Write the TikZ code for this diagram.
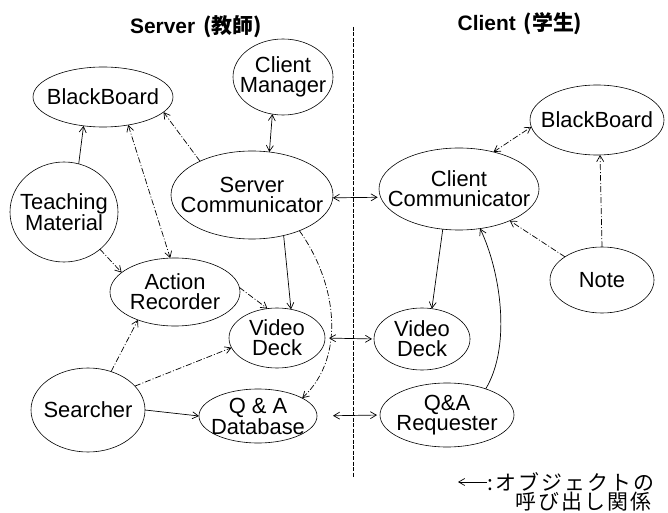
\documentclass[tikz,border=0pt]{standalone}
\usepackage{fontspec}
\setmainfont{Liberation Sans}
\newfontfamily\cjk{Noto Sans CJK JP}
\newfontfamily\cjkwide{Noto Sans CJK JP}[LetterSpace=10]
\usetikzlibrary{arrows.meta,shapes.geometric}
\begin{document}
\begin{tikzpicture}[x=1bp,y=-1bp,
  obj/.style={draw, ellipse, line width=0.6bp, inner sep=0pt, outer sep=0pt},
  txt/.style={align=center, font=\fontsize{22}{20}\selectfont, inner sep=0pt},
  ttl/.style={font=\fontsize{21}{22}\selectfont\bfseries, inner sep=0pt},
  tip/.style={line width=0.7bp, -{Straight Barb[length=6bp,width=7bp]}},
  tips/.style={line width=0.7bp, {Straight Barb[length=6bp,width=7bp]}-{Straight Barb[length=6bp,width=7bp]}},
  dd/.style={dash pattern=on 6bp off 2bp on 1bp off 2bp},
  divider/.style={line width=0.6bp, dash pattern=on 4bp off 1.5bp}]
\useasboundingbox (0,0) rectangle (668,513);

% titles
\node[ttl] (tS) at (196,27) {Server\hspace{8bp}{\cjk (教師)}};
\node[ttl] (tC) at (520,24) {Client\hspace{8bp}{\cjk (学生)}};

% divider
\coordinate (dTop) at (353,27);
\coordinate (dBot) at (353,477);
\draw[divider] (dTop) -- (dBot);

% server side objects
\node[obj, minimum width=140bp, minimum height=60bp, label={[txt]center:BlackBoard}] (bbS) at (103,97) {};
\node[obj, minimum width=100bp, minimum height=76bp, label={[txt]center:Client\\Manager}] (cm) at (283,77) {};
\node[obj, minimum width=108bp, minimum height=100bp, label={[txt]center:Teaching\\Material}] (tm) at (64,212) {};
\node[obj, minimum width=162bp, minimum height=88bp, label={[txt]center:Server\\Communicator}] (sc) at (252,195) {};
\node[obj, minimum width=130bp, minimum height=68bp, label={[txt]center:Action\\Recorder}] (ar) at (175,292) {};
\node[obj, minimum width=96bp, minimum height=60bp, label={[txt]center:Video\\Deck}] (vdS) at (277,338) {};
\node[obj, minimum width=114bp, minimum height=84bp, label={[txt]center:Searcher}] (se) at (88,410) {};
\node[obj, minimum width=118bp, minimum height=54bp, label={[txt]center:Q \& A\\Database}] (qa) at (258,416) {};

% client side objects
\node[obj, minimum width=134bp, minimum height=70bp, label={[txt]center:BlackBoard}] (bbC) at (597,120) {};
\node[obj, minimum width=160bp, minimum height=82bp, label={[txt]center:Client\\Communicator}] (cc) at (459,189) {};
\node[obj, minimum width=104bp, minimum height=66bp, label={[txt]center:Note}] (no) at (602,280) {};
\node[obj, minimum width=96bp, minimum height=62bp, label={[txt]center:Video\\Deck}] (vdC) at (422,339) {};
\node[obj, minimum width=134bp, minimum height=64bp, label={[txt]center:Q\&A\\Requester}] (qr) at (447,415) {};

% connectors, server side
\draw[tip] (tm.73) -- (bbS.236);
\draw[tip, dd] (sc.147) -- (bbS.-14);
\draw[tips, dd] (bbS.-48) -- (ar.98);
\draw[tips] (cm.-106) -- (sc.68);
\draw[tip, dd] (tm.-46) -- (ar.160);
\draw[tip] (sc.-52) -- (vdS.64);
\draw[tip, dd] (ar.4) -- (vdS.108);
\draw[tip, dd] (sc.-37) .. controls (335,280) and (348,355) .. (qa.22);
\draw[tip, dd] (se.59) -- (ar.217);
\draw[tip, dd] (se.27) -- (vdS.192);
\draw[tip] (se.east) -- (qa.west);

% connectors across
\draw[tips, shorten >=3bp] (sc.-2) -- (cc.186);
\draw[tips, shorten <=4bp, shorten >=2bp] (vdS.east) -- (vdC.west);
\draw[tips, shorten <=16bp, shorten >=3bp] (qa.east) -- (qr.west);

% connectors, client side
\draw[tips, dd] (cc.47) -- (bbC.186);
\draw[tip, dd] (no.90) -- (bbC.-85);
\draw[tip, dd] (no.148) -- (cc.-32);
\draw[tip] (cc.-112) -- (vdC.72);
\draw[tip] (qr.34) .. controls (512,345) and (500,270) .. (cc.-62);

% legend
\coordinate (lgA) at (487,482);
\coordinate (lgB) at (458,482);
\draw[tip] (lgA) -- (lgB);
\node[font=\fontsize{21}{22}\selectfont\cjkwide, anchor=west, inner sep=0pt] (lg1) at (487,482) {:オブジェクトの};
\node[font=\fontsize{21}{22}\selectfont\cjkwide, inner sep=0pt] (lg2) at (583,502) {呼び出し関係};
\end{tikzpicture}
\end{document}
